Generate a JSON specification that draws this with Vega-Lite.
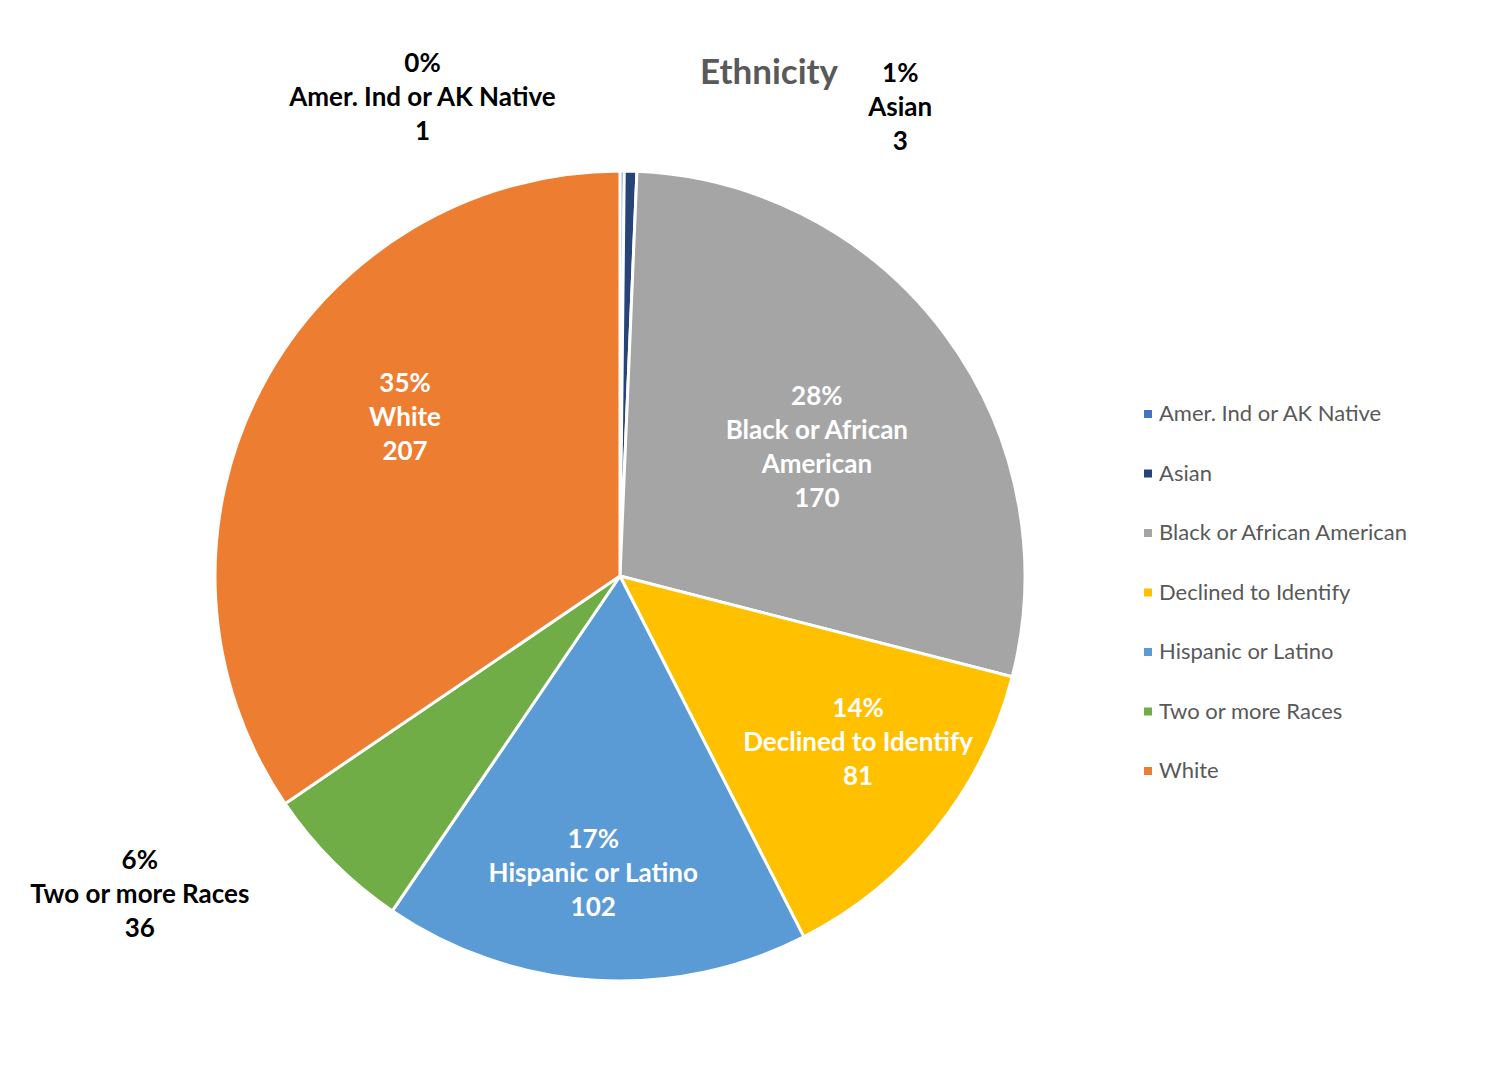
{
  "$schema": "https://vega.github.io/schema/vega-lite/v6.json",
  "autosize": {"type": "none"},
  "width": 810,
  "height": 810,
  "padding": {"left": 215, "top": 171, "right": 482, "bottom": 89},
  "background": "white",
  "title": {
    "text": "Ethnicity",
    "frame": "group",
    "anchor": "middle",
    "dx": 149,
    "dy": 68,
    "offset": 0,
    "baseline": "alphabetic",
    "font": "Lato",
    "fontSize": 35,
    "fontWeight": "bold",
    "color": "#595959"
  },
  "data": {
    "values": [
      {"cat": "Amer. Ind or AK Native", "value": 1, "ord": 1, "label": ["0%", "Amer. Ind or AK Native", "1"]},
      {"cat": "Asian", "value": 3, "ord": 2, "label": ["1%", "Asian", "3"]},
      {"cat": "Black or African American", "value": 170, "ord": 3, "label": ["28%", "Black or African", "American", "170"]},
      {"cat": "Declined to Identify", "value": 81, "ord": 4, "label": ["14%", "Declined to Identify", "81"]},
      {"cat": "Hispanic or Latino", "value": 102, "ord": 5, "label": ["17%", "Hispanic or Latino", "102"]},
      {"cat": "Two or more Races", "value": 36, "ord": 6, "label": ["6%", "Two or more Races", "36"]},
      {"cat": "White", "value": 207, "ord": 7, "label": ["35%", "White", "207"]}
    ]
  },
  "encoding": {
    "theta": {"field": "value", "type": "quantitative", "stack": true},
    "order": {"field": "ord", "type": "quantitative"}
  },
  "layer": [
    {
      "mark": {"type": "arc", "stroke": "white", "strokeWidth": 3},
      "encoding": {
        "color": {
          "field": "cat",
          "type": "nominal",
          "scale": {
            "domain": ["Amer. Ind or AK Native", "Asian", "Black or African American", "Declined to Identify", "Hispanic or Latino", "Two or more Races", "White"],
            "range": ["#4472C4", "#264478", "#A5A5A5", "#FFC000", "#5B9BD5", "#70AD47", "#ED7D31"]
          },
          "legend": {
            "title": null,
            "orient": "none",
            "legendX": 922,
            "legendY": 232,
            "padding": 0,
            "symbolType": "square",
            "symbolSize": 64,
            "symbolStrokeWidth": 0,
            "labelFont": "Lato",
            "labelFontSize": 22,
            "labelColor": "#595959",
            "labelOffset": 0,
            "rowPadding": 37.5,
            "labelLimit": 400
          }
        }
      }
    },
    {
      "mark": {"type": "text", "radius": 234, "dx": 9, "dy": -39, "font": "Lato", "fontSize": 26, "fontWeight": "bold", "fill": "white", "lineHeight": 34},
      "encoding": {"text": {"condition": {"test": "datum.cat === 'Black or African American'", "field": "label"}, "value": ""}}
    },
    {
      "mark": {"type": "text", "radius": 291, "dx": 11, "dy": -49, "font": "Lato", "fontSize": 26, "fontWeight": "bold", "fill": "white", "lineHeight": 34},
      "encoding": {"text": {"condition": {"test": "datum.cat === 'Declined to Identify'", "field": "label"}, "value": ""}}
    },
    {
      "mark": {"type": "text", "radius": 299, "dx": -8, "dy": -34, "font": "Lato", "fontSize": 26, "fontWeight": "bold", "fill": "white", "lineHeight": 34},
      "encoding": {"text": {"condition": {"test": "datum.cat === 'Hispanic or Latino'", "field": "label"}, "value": ""}}
    },
    {
      "mark": {"type": "text", "radius": 267, "dx": 21, "dy": -67, "font": "Lato", "fontSize": 26, "fontWeight": "bold", "fill": "white", "lineHeight": 34},
      "encoding": {"text": {"condition": {"test": "datum.cat === 'White'", "field": "label"}, "value": ""}}
    },
    {
      "mark": {"type": "text", "radius": 478, "dx": -200, "dy": -34, "font": "Lato", "fontSize": 26, "fontWeight": "bold", "fill": "black", "lineHeight": 34},
      "encoding": {"text": {"condition": {"test": "datum.cat === 'Amer. Ind or AK Native'", "field": "label"}, "value": ""}}
    },
    {
      "mark": {"type": "text", "radius": 468, "dx": 268, "dy": -34, "font": "Lato", "fontSize": 26, "fontWeight": "bold", "fill": "black", "lineHeight": 34},
      "encoding": {"text": {"condition": {"test": "datum.cat === 'Asian'", "field": "label"}, "value": ""}}
    },
    {
      "mark": {"type": "text", "radius": 450, "dx": -162, "dy": -33, "font": "Lato", "fontSize": 26, "fontWeight": "bold", "fill": "black", "lineHeight": 34},
      "encoding": {"text": {"condition": {"test": "datum.cat === 'Two or more Races'", "field": "label"}, "value": ""}}
    }
  ],
  "config": {"view": {"stroke": null}}
}
